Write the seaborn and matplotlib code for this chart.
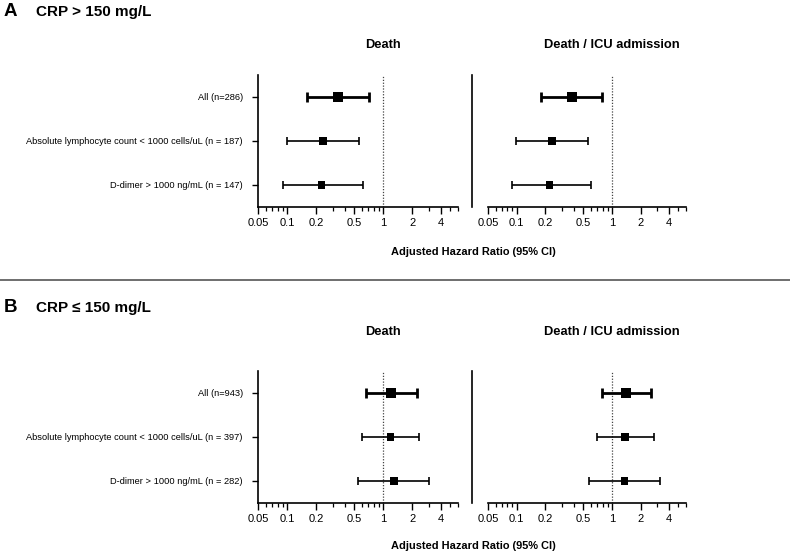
"""
Forest plots of adjusted hazard ratios, split by CRP level (panel A / B)
and by outcome (death vs death / ICU admission).
"""

import numpy as np
import pandas as pd
import matplotlib
matplotlib.use("Agg")
import matplotlib.pyplot as plt
import matplotlib.ticker as mticker
from matplotlib.lines import Line2D
import seaborn as sns

# ---- data ----
SUBGROUPS_A = [
    "All (n=286)",
    "Absolute lymphocyte count < 1000 cells/uL (n = 187)",
    "D-dimer > 1000 ng/mL (n = 147)",
]
SUBGROUPS_B = [
    "All (n=943)",
    "Absolute lymphocyte count < 1000 cells/uL (n = 397)",
    "D-dimer > 1000 ng/mL (n = 282)",
]

# CRP > 150 mg/L
a_death_hr = [0.34, 0.237, 0.23]
a_death_lo = [0.16, 0.10, 0.091]
a_death_hi = [0.71, 0.56, 0.62]

a_icu_hr = [0.38, 0.234, 0.22]
a_icu_lo = [0.18, 0.098, 0.089]
a_icu_hi = [0.785, 0.56, 0.60]

# CRP <= 150 mg/L
b_death_hr = [1.21, 1.20, 1.30]
b_death_lo = [0.66, 0.60, 0.55]
b_death_hi = [2.25, 2.37, 3.0]

b_icu_hr = [1.41, 1.37, 1.35]
b_icu_lo = [0.79, 0.70, 0.58]
b_icu_hi = [2.6, 2.75, 3.2]

OUTCOMES = ["Death", "Death / ICU admission"]
XTICKS = [0.05, 0.1, 0.2, 0.5, 1, 2, 4]
XTICKLABELS = ["0.05", "0.1", "0.2", "0.5", "1", "2", "4"]

W, H = 790, 554


def make_df(labels, hr, lo, hi):
    return pd.DataFrame({
        "label": labels,
        "hr": hr,
        "lo": lo,
        "hi": hi,
        "is_all": [i == 0 for i in range(len(labels))],
        "ypos": np.arange(len(labels)),
    })


def forest(ax, df, show_labels):
    for _, row in df.iterrows():
        lw = 2.0 if row["is_all"] else 1.2
        cap = 3.5 if row["is_all"] else 2.6
        ax.errorbar(
            row["hr"], row["ypos"],
            xerr=[[row["hr"] - row["lo"]], [row["hi"] - row["hr"]]],
            fmt="none", ecolor="black", elinewidth=lw, capsize=cap, capthick=lw,
            zorder=2,
        )
    sns.scatterplot(
        data=df, x="hr", y="ypos", size="is_all", sizes={True: 50, False: 28},
        marker="s", color="black", edgecolor="none", legend=False, ax=ax, zorder=3,
    )
    ax.axvline(1, color="#444444", lw=0.9, ls=(0, (1, 1.3)), zorder=1)

    ax.set_xscale("log")
    ax.set_xlim(0.05, 6)
    ax.set_ylim(2.5, -0.5)
    ax.xaxis.set_major_locator(mticker.FixedLocator(XTICKS))
    ax.xaxis.set_major_formatter(mticker.FixedFormatter(XTICKLABELS))
    ax.xaxis.set_minor_locator(mticker.LogLocator(base=10, subs=np.arange(2, 10)))
    ax.xaxis.set_minor_formatter(mticker.NullFormatter())
    ax.tick_params(axis="x", which="major", bottom=True, length=5, width=1,
                   labelsize=8, pad=3, color="black", labelcolor="black")
    ax.tick_params(axis="x", which="minor", bottom=True, length=3, width=0.9,
                   color="black")
    ax.set_xlabel("")
    ax.set_ylabel("")

    ax.set_yticks(df["ypos"])
    if show_labels:
        ax.set_yticklabels(df["label"], fontsize=6.7)
        ax.tick_params(axis="y", left=True, length=4, width=1, pad=7,
                       color="black", labelcolor="black")
    else:
        ax.set_yticklabels([])
        ax.tick_params(axis="y", left=False, length=0)
        ax.spines["left"].set_position(("outward", 11.5))

    for side in ["top", "right"]:
        ax.spines[side].set_visible(False)
    for side in ["left", "bottom"]:
        ax.spines[side].set_linewidth(1.2)
        ax.spines[side].set_color("black")


sns.set_theme(style="ticks")
plt.rcParams["font.family"] = ["Liberation Sans", "DejaVu Sans"]
plt.rcParams["text.color"] = "black"

fig = plt.figure(figsize=(W / 100, H / 100), dpi=100)


def axes_px(x0, x1, y_top, y_bot):
    return fig.add_axes([x0 / W, 1 - y_bot / H, (x1 - x0) / W, (y_bot - y_top) / H])


panels = [
    # (letter, header, y_top, y_bottom, dataframes, header y, outcome y, xlabel y)
    ("A", "CRP > 150 mg/L", 75, 207,
     [make_df(SUBGROUPS_A, a_death_hr, a_death_lo, a_death_hi),
      make_df(SUBGROUPS_A, a_icu_hr, a_icu_lo, a_icu_hi)], 12, 45, 252),
    ("B", "CRP \u2264 150 mg/L", 371, 503,
     [make_df(SUBGROUPS_B, b_death_hr, b_death_lo, b_death_hi),
      make_df(SUBGROUPS_B, b_icu_hr, b_icu_lo, b_icu_hi)], 308, 332, 546),
]

for letter, header, y_top, y_bot, dfs, hy, oy, ly in panels:
    ax_l = axes_px(258, 458, y_top, y_bot)
    ax_r = axes_px(488, 686, y_top, y_bot)
    forest(ax_l, dfs[0], show_labels=True)
    forest(ax_r, dfs[1], show_labels=False)

    for ax, outcome in zip([ax_l, ax_r], OUTCOMES):
        trans = matplotlib.transforms.blended_transform_factory(ax.transData, fig.transFigure)
        ax.text(1, 1 - oy / H, outcome, transform=trans, ha="center", va="center",
                fontsize=9.3, fontweight="bold")

    fig.text(4 / W, 1 - hy / H, letter, ha="left", va="center",
             fontsize=13.5, fontweight="bold")
    fig.text(36 / W, 1 - hy / H, header, ha="left", va="center",
             fontsize=11, fontweight="bold")
    fig.text(473 / W, 1 - ly / H, "Adjusted Hazard Ratio (95% CI)", ha="center",
             va="center", fontsize=7.9, fontweight="bold")

# separator between panel A and B
fig.add_artist(Line2D([0, 1], [1 - 280 / H, 1 - 280 / H], transform=fig.transFigure,
                      color="#555555", lw=1.2))

fig.savefig("out.png", dpi=100, facecolor="white")
